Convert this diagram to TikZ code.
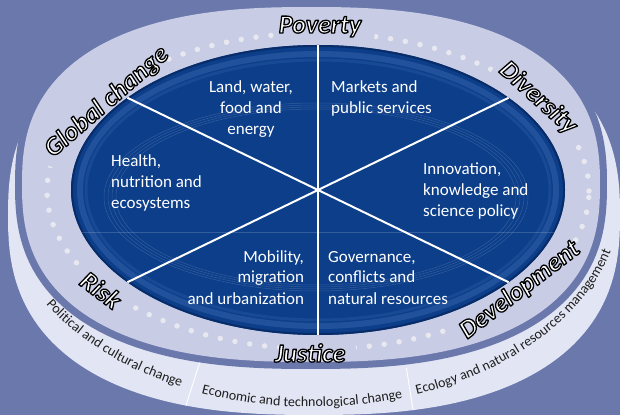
\documentclass[tikz,border=0pt]{standalone}
\usepackage{fontspec}
\setmainfont{Carlito}
\usetikzlibrary{decorations.text}
\definecolor{bgc}{HTML}{6A78AC}
\definecolor{lavc}{HTML}{C8CCE5}
\definecolor{cresc}{HTML}{E2E5F3}
\definecolor{innerc}{HTML}{0C3E8A}
\definecolor{rimc}{HTML}{072C68}
\definecolor{bevc}{HTML}{3E6AB0}
\definecolor{dotc}{HTML}{E8E8F0}
\definecolor{txtd}{HTML}{1E1E1E}
\newcommand\lblfnt{\fontsize{26}{30}\selectfont\bfseries\itshape}
\newcommand\segfnt{\fontsize{17}{21}\selectfont}
\newcommand\btfnt{\fontsize{14}{16}\selectfont}
\newcommand\outlined[1]{\special{pdf:literal direct 2 Tr 1.3 w 1 j 0 0 0 RG}#1\special{pdf:literal direct 0 Tr}}
\newcommand\olabel[4]{\node[lblin,#2] (#1) at (#3) {\outlined{#4}};}
\tikzset{
  lblin/.style={font=\lblfnt, text=white, inner sep=0pt},
  seg/.style={font=\segfnt, text=white, inner sep=0pt},
  spoke/.style={white, line width=2pt},
  faint/.style={white, opacity=0.16, line width=0.5pt},
  mask/.style={lavc, line width=9pt},
  bottomtext/.style={decorate, decoration={text along path, text color=txtd, text align=center, text={|\btfnt|#1}}}
}
\begin{document}
\begin{tikzpicture}[x=1pt,y=1pt]
\useasboundingbox (0,0) rectangle (620,415);
\fill[bgc] (0,0) rectangle (620,415);
% outer crescent
\fill[cresc] plot[domain=0.5:358.5, samples=180] ({314+306*cos(\x)*pow(abs(cos(\x)),-0.2)},{200+200*sin(\x)*pow(abs(sin(\x)),-0.2)}) -- cycle;
\begin{scope}
\clip plot[domain=0.5:358.5, samples=180] ({314+306*cos(\x)*pow(abs(cos(\x)),-0.2)},{200+200*sin(\x)*pow(abs(sin(\x)),-0.2)}) -- cycle;
\coordinate (d1a) at (200.5,55);
\coordinate (d1b) at (182,-3);
\coordinate (d2a) at (406.4,47);
\coordinate (d2b) at (414.6,-5);
\draw[white, line width=0.9pt] (d1a) -- (d1b);
\draw[white, line width=0.9pt] (d2a) -- (d2b);
\end{scope}
% dark band
\fill[bgc] plot[domain=0.5:358.5, samples=180] ({311+296*cos(\x)*pow(abs(cos(\x)),-0.2)},{230.5+184.5*sin(\x)*pow(abs(sin(\x)),-0.2)}) -- cycle;
% bottom texts
\path[bottomtext={Political and cultural change}] (312,220) ++(202:310 and 212) arc[start angle=202, end angle=252, x radius=310, y radius=212];
\path[bottomtext={Economic and technological change}] (312,220) ++(243:310 and 212) arc[start angle=243, end angle=293, x radius=310, y radius=212];
\path[bottomtext={Ecology and natural resources management}] (312,220) ++(283:310 and 212) arc[start angle=283, end angle=354, x radius=310, y radius=212];
% lavender ring
\fill[lavc] plot[domain=0.5:358.5, samples=180] ({311+289*cos(\x)*pow(abs(cos(\x)),-0.2)},{230.5+177.5*sin(\x)*pow(abs(sin(\x)),-0.2)}) -- cycle;
% dots
\draw[dotc, line width=5.5pt, line cap=round, dash pattern=on 0pt off 15pt] (318,224) ellipse[x radius=271, y radius=158];
\draw[mask] (318,224) ++(78:271 and 158) arc[start angle=78, end angle=99, x radius=271, y radius=158];
\draw[mask] (318,224) ++(19:271 and 158) arc[start angle=19, end angle=50, x radius=271, y radius=158];
\draw[mask] (318,224) ++(124:271 and 158) arc[start angle=124, end angle=171, x radius=271, y radius=158];
\draw[mask] (318,224) ++(209:271 and 158) arc[start angle=209, end angle=226, x radius=271, y radius=158];
\draw[mask] (318,224) ++(262:271 and 158) arc[start angle=262, end angle=278, x radius=271, y radius=158];
\draw[mask] (318,224) ++(300:271 and 158) arc[start angle=300, end angle=341, x radius=271, y radius=158];
% inner ellipse
\fill[innerc] (318,225) ellipse[x radius=247, y radius=145];
\begin{scope}
\clip (318,225) ellipse[x radius=247, y radius=145];
\draw[bevc, opacity=0.45, line width=6pt] (318,225) ellipse[x radius=238, y radius=136];
\draw[bevc, opacity=0.25, line width=3pt] (318,225) ellipse[x radius=232, y radius=130];
\draw[rimc, line width=4pt] (318,225) ellipse[x radius=247, y radius=145];
\draw[faint] (316,218) ellipse[x radius=200, y radius=88];
\draw[faint] (316,218) ellipse[x radius=204, y radius=90];
\draw[faint] (316,218) ellipse[x radius=208, y radius=92];
\draw[faint] (316,218) ellipse[x radius=212, y radius=94];
\draw[faint] (60,183) -- (580,183);
\end{scope}
% spokes
\coordinate (c) at (318,225);
\path (c) ++(90:247 and 145) coordinate (p1);
\path (c) ++(270:247 and 145) coordinate (p2);
\path (c) ++(39.5:247 and 145) coordinate (p3);
\path (c) ++(219.5:247 and 145) coordinate (p4);
\path (c) ++(140.5:247 and 145) coordinate (p5);
\path (c) ++(320.5:247 and 145) coordinate (p6);
\draw[spoke] (p1) -- (p2);
\draw[spoke] (p3) -- (p4);
\draw[spoke] (p5) -- (p6);
% segment texts
\node[seg, anchor=base] (land) at (251,322) {\vtop{\baselineskip=21pt\hbox to 0pt{\hss Land, water,\hss}\hbox to 0pt{\hss food and\hss}\hbox to 0pt{\hss energy\hss}}};
\node[seg, anchor=base west] (markets) at (331,322) {\vtop{\baselineskip=21pt\hbox{Markets and}\hbox{public services}}};
\node[seg, anchor=base west] (health) at (111,248) {\vtop{\baselineskip=21pt\hbox{Health,}\hbox{nutrition and}\hbox{ecosystems}}};
\node[seg, anchor=base west] (innov) at (423,240) {\vtop{\baselineskip=21pt\hbox{Innovation,}\hbox{knowledge and}\hbox{science policy}}};
\node[seg, anchor=base] (mobil) at (304,153) {\vtop{\baselineskip=21pt\hbox to 0pt{\hss Mobility,}\hbox to 0pt{\hss migration}\hbox to 0pt{\hss and urbanization}}};
\node[seg, anchor=base west] (gov) at (328,153) {\vtop{\baselineskip=21pt\hbox{Governance,}\hbox{conflicts and}\hbox{natural resources}}};
% ring labels
\olabel{pov}{anchor=base}{320,382}{Poverty}
\olabel{jus}{anchor=base}{310,53}{Justice}
\olabel{div}{rotate=-42}{538,317}{Diversity}
\olabel{glob}{rotate=41}{107,313}{Global change}
\olabel{risk}{rotate=-37}{101,125}{Risk}
\olabel{dev}{rotate=37.5}{520,125}{Development}
\end{tikzpicture}
\end{document}
